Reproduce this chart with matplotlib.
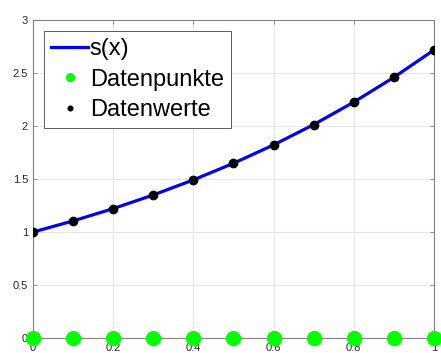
import matplotlib
matplotlib.use("Agg")
import matplotlib.pyplot as plt

plt.rcParams['font.family'] = ['Liberation Sans', 'DejaVu Sans']

# data
x_werte = [0.0, 0.1, 0.2, 0.3, 0.4, 0.5, 0.6, 0.7, 0.8, 0.9, 1.0]
y_werte = [1.0, 1.105, 1.221, 1.35, 1.492, 1.649, 1.822, 2.014, 2.226, 2.46, 2.718]
y_punkte = [0, 0, 0, 0, 0, 0, 0, 0, 0, 0, 0]
x_ticks = [0, 0.2, 0.4, 0.6, 0.8, 1]
y_ticks = [0, 0.5, 1, 1.5, 2, 2.5, 3]

fig = plt.figure(figsize=(4.41, 3.53), dpi=100)
ax = fig.add_axes([0.0748, 0.0425, 0.9092, 0.9005])

ax.plot(x_werte, y_werte, color="blue", lw=2.3, label="s(x)", zorder=3)
ax.plot(x_werte, y_punkte, 'o', color=(0, 1, 0), ms=10, label="Datenpunkte",
        clip_on=False, zorder=4)
ax.plot(x_werte, y_werte, 'o', color="black", ms=6, label="Datenwerte", zorder=5)

ax.set_xlim(0, 1)
ax.set_ylim(0, 3)
ax.set_xticks(x_ticks)
ax.set_xticklabels(['0', '0.2', '0.4', '0.6', '0.8', '1'])
ax.set_yticks(y_ticks)
ax.set_yticklabels(['0', '0.5', '1', '1.5', '2', '2.5', '3'])
ax.grid(True, color="#e6e6e6", lw=0.8)
ax.set_axisbelow(True)
ax.tick_params(direction="in", length=3, width=0.6, colors="#808080",
               labelcolor="#262626", labelsize=8, top=True, right=True, pad=3.5)
for s in ax.spines.values():
    s.set_color("#808080")
    s.set_linewidth(0.8)

leg = ax.legend(loc="upper left", fontsize=17, handlelength=1.6, handletextpad=0.05,
                borderpad=0.3, labelspacing=0.37, fancybox=False, framealpha=1,
                edgecolor="#404040", borderaxespad=0.45, markerscale=0.55)
leg.get_frame().set_linewidth(0.6)

fig.savefig("out.png", dpi=100)
